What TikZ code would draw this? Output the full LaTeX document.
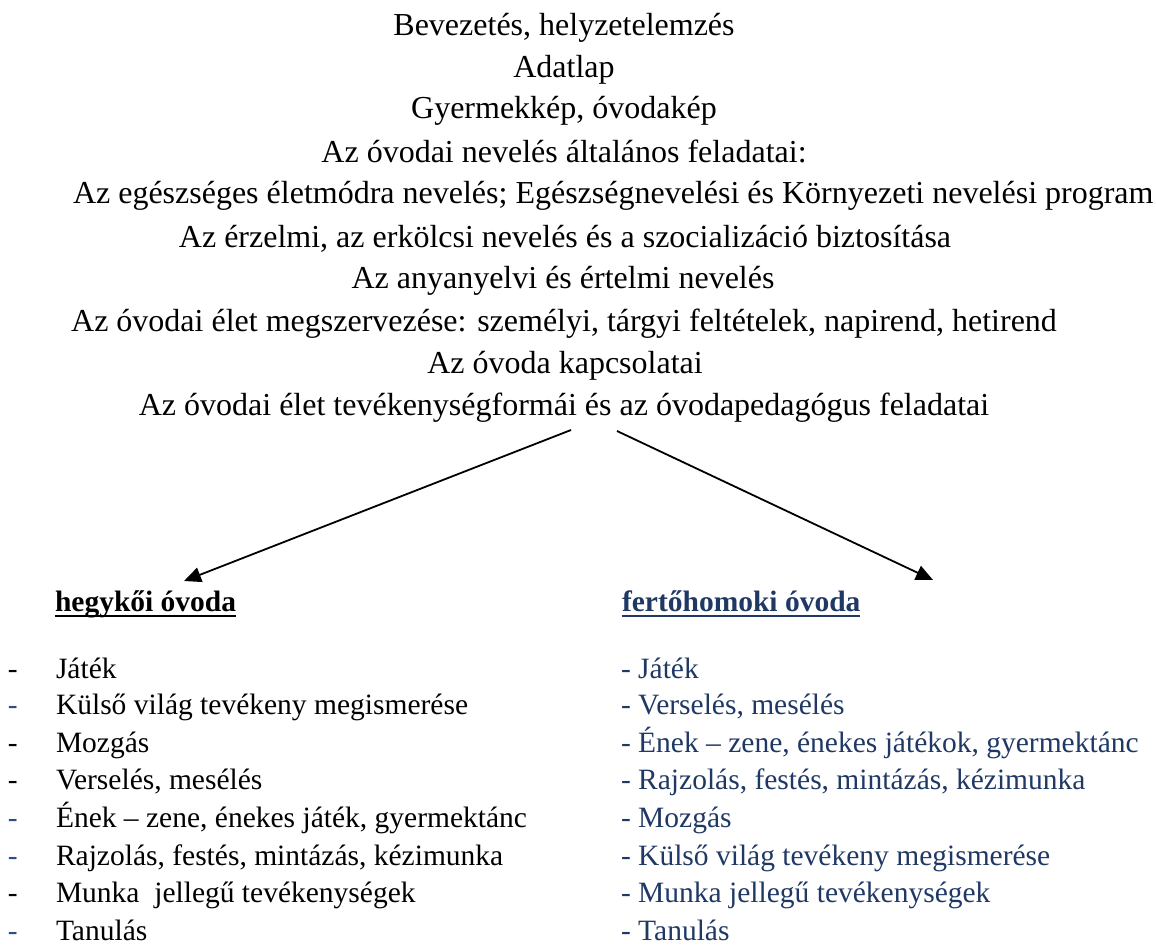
\documentclass[tikz,border=0pt]{standalone}
\usepackage{fontspec}
\setmainfont{Liberation Serif}
\usetikzlibrary{arrows.meta,calc}
\definecolor{navy}{HTML}{1F3864}
\definecolor{dashblue}{HTML}{2E4F80}
\begin{document}
\begin{tikzpicture}[x=1pt,y=-1pt,
  toptxt/.style={inner sep=0pt,outer sep=0pt,anchor=base,font=\fontsize{32}{38}\selectfont},
  listtxt/.style={inner sep=0pt,outer sep=0pt,anchor=base west,font=\fontsize{29.5}{35}\selectfont},
  headtxt/.style={inner sep=0pt,outer sep=0pt,anchor=base west,font=\fontsize{29.5}{35}\selectfont\bfseries},
  conn/.style={line width=1.8pt,-{Triangle[length=17pt,width=15pt]}}]
\useasboundingbox (0,0) rectangle (1156,946);
% top list
\node[toptxt] (t1) at (564,35) {Bevezetés, helyzetelemzés};
\node[toptxt] (t2) at (564,77) {Adatlap};
\node[toptxt] (t3) at (564,118) {Gyermekkép, óvodakép};
\node[toptxt] (t4) at (564,162) {Az óvodai nevelés általános feladatai:};
\node[toptxt,anchor=base west] (t5) at (73,203) {Az egészséges életmódra nevelés; Egészségnevelési és Környezeti nevelési program};
\node[toptxt] (t6) at (565,247) {Az érzelmi, az erkölcsi nevelés és a szocializáció biztosítása};
\node[toptxt] (t7) at (563,288) {Az anyanyelvi és értelmi nevelés};
\node[toptxt] (t8) at (564,331) {Az óvodai élet megszervezése: személyi, tárgyi feltételek, napirend, hetirend};
\node[toptxt] (t9) at (565,373) {Az óvoda kapcsolatai};
\node[toptxt] (t10) at (564,415) {Az óvodai élet tevékenységformái és az óvodapedagógus feladatai};
% arrows
\coordinate (s1) at (571,430);
\coordinate (s2) at (617,431);
\coordinate (e1) at (184,581);
\coordinate (e2) at (933,580);
\draw[conn] (s1) -- (e1);
\draw[conn] (s2) -- (e2);
% headings
\node[headtxt] (h1) at (55,611) {hegykői óvoda};
\draw[line width=2pt] ($(h1.base west)+(0,5)$) -- ($(h1.base east)+(0,5)$);
\node[headtxt,text=navy] (h2) at (622,611) {fertőhomoki óvoda};
\draw[line width=2pt,navy] ($(h2.base west)+(0,5)$) -- ($(h2.base east)+(0,5)$);
% left list
\node[listtxt] (ld1) at (8,678) {-};
\node[listtxt] (l1) at (56,678) {Játék};
\node[listtxt,text=dashblue] (ld2) at (8,714) {-};
\node[listtxt] (l2) at (56,714) {Külső világ tevékeny megismerése};
\node[listtxt] (ld3) at (8,752) {-};
\node[listtxt] (l3) at (56,752) {Mozgás};
\node[listtxt] (ld4) at (8,789) {-};
\node[listtxt] (l4) at (56,789) {Verselés, mesélés};
\node[listtxt,text=dashblue] (ld5) at (8,827) {-};
\node[listtxt] (l5) at (56,827) {Ének – zene, énekes játék, gyermektánc};
\node[listtxt,text=dashblue] (ld6) at (8,865) {-};
\node[listtxt] (l6) at (56,865) {Rajzolás, festés, mintázás, kézimunka};
\node[listtxt] (ld7) at (8,902) {-};
\node[listtxt] (l7) at (56,902) {Munka\ \ jellegű tevékenységek};
\node[listtxt,text=dashblue] (ld8) at (8,940) {-};
\node[listtxt] (l8) at (56,940) {Tanulás};
% right list
\node[listtxt,text=navy] (r1) at (621,678) {- Játék};
\node[listtxt,text=navy] (r2) at (621,714) {- Verselés, mesélés};
\node[listtxt,text=navy] (r3) at (621,752) {- Ének – zene, énekes játékok, gyermektánc};
\node[listtxt,text=navy] (r4) at (621,789) {- Rajzolás, festés, mintázás, kézimunka};
\node[listtxt,text=navy] (r5) at (621,827) {- Mozgás};
\node[listtxt,text=navy] (r6) at (621,865) {- Külső világ tevékeny megismerése};
\node[listtxt,text=navy] (r7) at (621,902) {- Munka jellegű tevékenységek};
\node[listtxt,text=navy] (r8) at (621,940) {- Tanulás};
\end{tikzpicture}
\end{document}
